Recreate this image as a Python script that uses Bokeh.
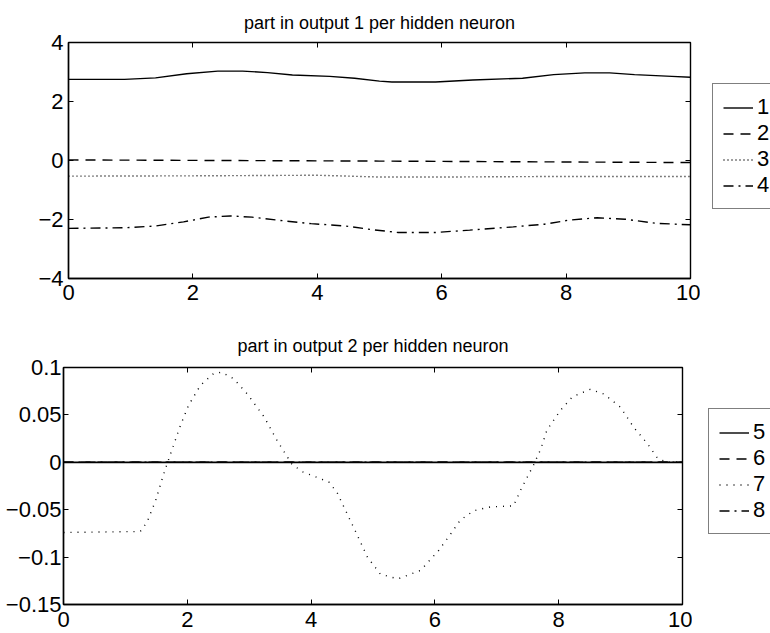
from bokeh.plotting import figure
from bokeh.models import Range1d, FixedTicker, LinearAxis, Legend, LegendItem
from bokeh.layouts import column, row
from bokeh.embed import file_html
from bokeh.resources import INLINE

FONT = "Liberation Sans"

# ---------------- data ----------------
x_ticks = [0, 2, 4, 6, 8, 10]
x_tick_labels = ["0", "2", "4", "6", "8", "10"]

top_title = "part in output 1 per hidden neuron"
top_y_ticks = [-4, -2, 0, 2, 4]
top_y_tick_labels = ["\u22124", "\u22122", "0", "2", "4"]

s1_x = [0, 0.9, 1.4, 1.9, 2.4, 2.8, 3.2, 3.6, 4.2, 4.6, 5.0, 5.2, 5.9, 6.5, 7.3, 7.8, 8.3, 8.7, 9.1, 9.7, 10]
s1_y = [2.75, 2.75, 2.80, 2.94, 3.03, 3.03, 2.98, 2.90, 2.85, 2.79, 2.69, 2.66, 2.66, 2.73, 2.79, 2.91, 2.97, 2.97, 2.91, 2.85, 2.82]

s2_x = [0, 5, 10]
s2_y = [0.02, -0.02, -0.07]

s3_x = [0, 2, 4, 5, 6, 8, 10]
s3_y = [-0.53, -0.52, -0.50, -0.56, -0.56, -0.54, -0.54]

s4_x = [0, 0.9, 1.4, 1.85, 2.25, 2.6, 2.95, 3.35, 3.9, 4.45, 4.9, 5.3, 5.9, 6.45, 7.15, 7.65, 8.05, 8.5, 8.95, 9.45, 10]
s4_y = [-2.30, -2.28, -2.22, -2.08, -1.92, -1.88, -1.92, -2.02, -2.14, -2.22, -2.35, -2.44, -2.44, -2.36, -2.25, -2.16, -2.02, -1.94, -1.99, -2.13, -2.18]

bottom_title = "part in output 2 per hidden neuron"
bot_y_ticks = [-0.15, -0.1, -0.05, 0, 0.05, 0.1]
bot_y_tick_labels = ["\u22120.15", "\u22120.1", "\u22120.05", "0", "0.05", "0.1"]

s5_x = [0, 10]
s5_y = [0, 0]
s6_x = [0, 10]
s6_y = [0, 0]
s7_x = [0, 1.24, 1.35, 1.49, 1.62, 1.73, 1.89, 2.02, 2.21, 2.43, 2.56, 2.75, 2.97, 3.24, 3.45, 3.69,
        3.86, 4.10, 4.29, 4.42, 4.58, 4.74, 4.91, 5.12, 5.4, 5.77, 6.06, 6.25, 6.41, 6.63, 6.90, 7.27,
        7.38, 7.49, 7.60, 7.71, 7.81, 8.03, 8.22, 8.51, 8.73, 9.0, 9.21, 9.43, 9.6, 9.75, 10]
s7_y = [-0.074, -0.073, -0.063, -0.040, -0.012, 0.009, 0.039, 0.060, 0.081, 0.094, 0.095, 0.088, 0.072,
        0.048, 0.023, -0.002, -0.010, -0.016, -0.021, -0.032, -0.054, -0.076, -0.100, -0.118, -0.123,
        -0.114, -0.093, -0.076, -0.061, -0.051, -0.047, -0.046, -0.030, -0.016, -0.002, 0.014, 0.034,
        0.055, 0.069, 0.077, 0.072, 0.058, 0.037, 0.020, 0.004, 0.0, 0.0]
s8_x = [0, 10]
s8_y = [0, 0]

top_labels = ["1", "2", "3", "4"]
bot_labels = ["5", "6", "7", "8"]

TICK_PX = "22px"
LW = 1.4
SOLID, DASH, DOT_TOP, DOT_BOT, DASHDOT = None, "10 7", "1 3", "1 6", "10 5 2 5"


def make_fig(width, height, yr, yticks, ylabels, title, borders, x_standoff, y_standoff, title_standoff):
    p = figure(width=width, height=height, output_backend="svg", toolbar_location=None,
               x_range=Range1d(0, 10), y_range=Range1d(*yr))
    p.min_border_left, p.min_border_right, p.min_border_top, p.min_border_bottom = borders
    p.grid.visible = False
    p.background_fill_color = "white"
    p.border_fill_color = "white"
    p.outline_line_color = "black"
    p.outline_line_width = 1.4
    p.title.text = title
    p.title.align = "center"
    p.title.text_font = FONT
    p.title.text_font_size = "18px"
    p.title.text_font_style = "normal"
    p.title.text_color = "black"
    try:
        p.title.standoff = title_standoff
    except Exception:
        pass

    for ax, ticks, labels in ((p.xaxis[0], x_ticks, x_tick_labels), (p.yaxis[0], yticks, ylabels)):
        ax.ticker = FixedTicker(ticks=ticks)
        ax.major_label_overrides = {t: l for t, l in zip(ticks, labels)}
        ax.major_label_text_font = FONT
        ax.major_label_text_font_size = TICK_PX
        ax.major_label_text_color = "black"
        ax.major_tick_in = 5
        ax.major_tick_out = 0
        ax.minor_tick_line_color = None
        ax.axis_line_color = "black"
        ax.axis_line_width = 1.4
        ax.major_tick_line_color = "black"
    p.xaxis[0].major_label_standoff = x_standoff
    p.yaxis[0].major_label_standoff = y_standoff

    for loc, ticks in (("above", x_ticks), ("right", yticks)):
        ax = LinearAxis(ticker=FixedTicker(ticks=ticks),
                        major_label_overrides={t: "" for t in ticks},
                        major_label_text_font_size="1px",
                        major_label_standoff=0, major_tick_in=5, major_tick_out=0,
                        minor_tick_line_color=None, axis_line_color=None,
                        major_tick_line_color="black")
        p.add_layout(ax, loc)
    return p


def legend_fig(width, height, labels, series, dashes, loc):
    # a side panel that holds only the legend; its glyphs use the series data but the
    # panel's range lies far away from the data, so only the legend box is seen
    q = figure(width=width, height=height, output_backend="svg", toolbar_location=None,
               x_range=Range1d(0, 1), y_range=Range1d(1000, 1001), x_axis_type=None, y_axis_type=None,
               min_border=0)
    q.grid.visible = False
    q.outline_line_color = None
    q.background_fill_color = "white"
    q.border_fill_color = "white"
    rs = []
    for (sx, sy), d in zip(series, dashes):
        kw = dict(line_color="black", line_width=LW)
        if d is not None:
            kw["line_dash"] = d
        rs.append(q.line(sx, sy, **kw))
    leg = Legend(items=[LegendItem(label=l, renderers=[r]) for l, r in zip(labels, rs)], location=loc)
    leg.label_text_font = FONT
    leg.label_text_font_size = "22px"
    leg.label_text_color = "black"
    leg.border_line_color = "black"
    leg.border_line_width = 1.3
    leg.background_fill_color = "white"
    leg.background_fill_alpha = 1
    leg.glyph_width = 30
    leg.glyph_height = 25
    leg.label_height = 25
    leg.label_standoff = 4
    leg.spacing = 0
    leg.padding = 10
    leg.margin = 0
    q.add_layout(leg)
    return q


# ---------------- top panel ----------------
p1 = make_fig(700, 316, (-4, 4), top_y_ticks, top_y_tick_labels, top_title, (68, 10, 40, 38), 6, 5, 20)
p1.line(s1_x, s1_y, line_color="black", line_width=LW)
p1.line(s2_x, s2_y, line_color="black", line_width=LW, line_dash=DASH)
p1.line(s3_x, s3_y, line_color="black", line_width=LW, line_dash=DOT_TOP)
p1.line(s4_x, s4_y, line_color="black", line_width=LW, line_dash=DASHDOT)
l1 = legend_fig(70, 316, top_labels, [(s1_x, s1_y), (s2_x, s2_y), (s3_x, s3_y), (s4_x, s4_y)],
                [SOLID, DASH, DOT_TOP, DASHDOT], (12, 69))

# ---------------- bottom panel ----------------
p2 = make_fig(692, 317, (-0.15, 0.1), bot_y_ticks, bot_y_tick_labels, bottom_title, (63, 10, 51, 29), 7, 2, 23)
p2.line(s6_x, s6_y, line_color="black", line_width=LW, line_dash=DASH)
p2.line(s8_x, s8_y, line_color="black", line_width=LW, line_dash=DASHDOT)
p2.line(s7_x, s7_y, line_color="black", line_width=LW, line_dash=DOT_BOT)
p2.line(s5_x, s5_y, line_color="black", line_width=1.8)
l2 = legend_fig(78, 317, bot_labels, [(s5_x, s5_y), (s6_x, s6_y), (s7_x, s7_y), (s8_x, s8_y)],
                [SOLID, DASH, DOT_BOT, DASHDOT], (16, 70))

layout = column(row(p1, l1, spacing=0), row(p2, l2, spacing=0), spacing=0)
open("out.html", "w").write(file_html(layout, INLINE))
